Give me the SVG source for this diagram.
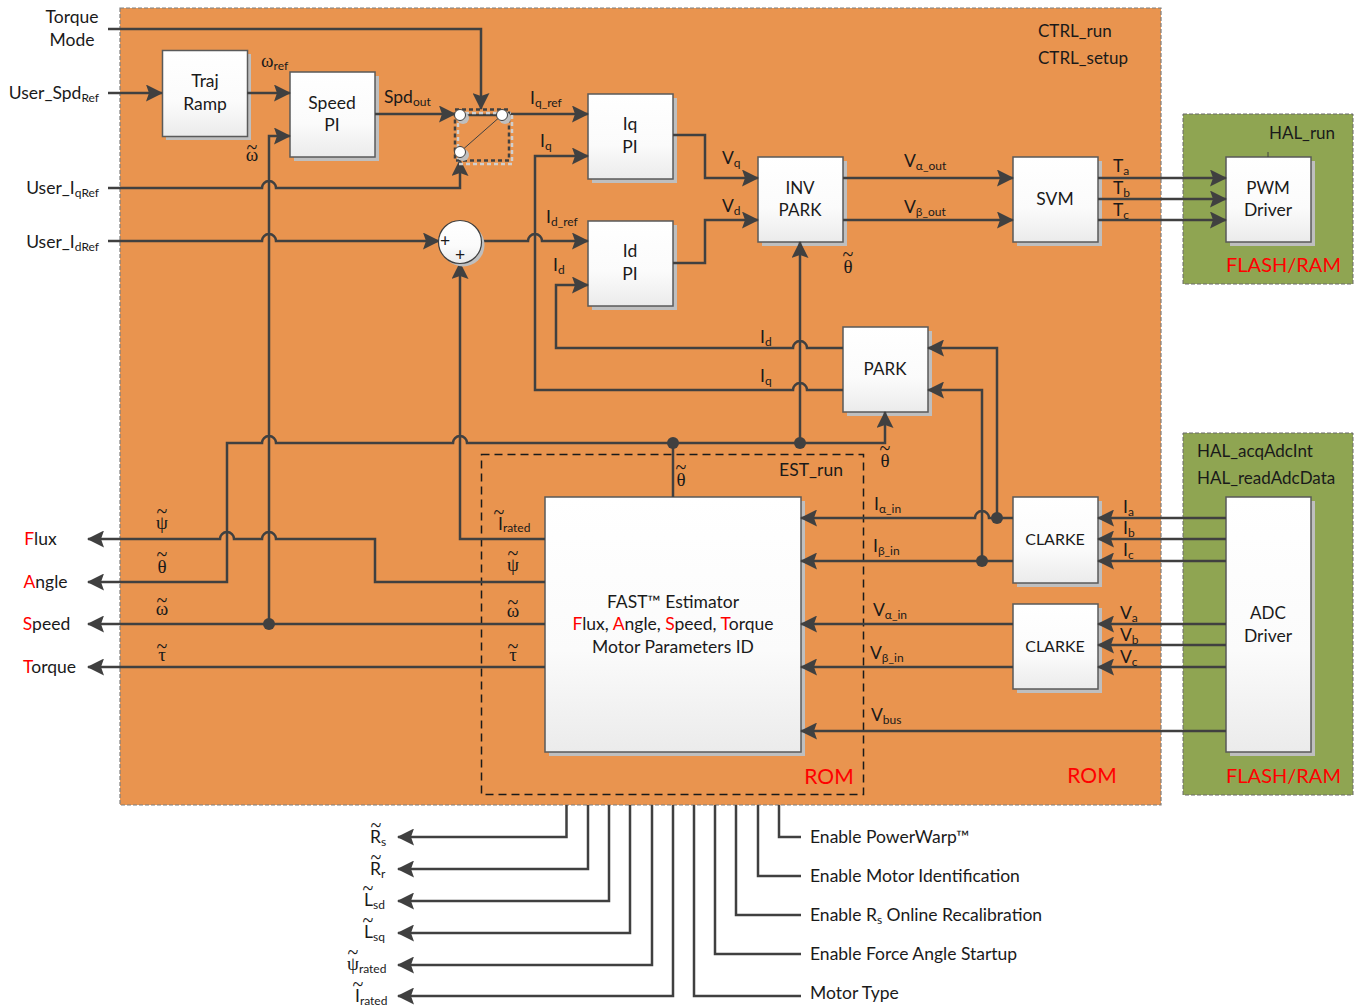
<svg xmlns="http://www.w3.org/2000/svg" width="1355" height="1007" viewBox="0 0 1355 1007">
<style>
text{font-family:Lato,"Liberation Sans",sans-serif;font-size:17.5px;fill:#1a1a1a}
.m{text-anchor:middle}
.e{text-anchor:end}
.s{font-size:12px}
.h{font-size:17px}
.k{font-size:16px}
.g{font-family:"Liberation Serif",serif;font-size:19px}
.t{font-family:"Liberation Serif",serif;font-size:20px;text-anchor:middle}
.r{fill:#f00}
.big{font-size:21px;fill:#f00}
.fl{font-size:20px;fill:#f00}
.c{fill:none;stroke:#404040;stroke-width:2.5}
.a{marker-end:url(#arr)}
.n{fill:url(#grad);stroke:#5a5a5a;stroke-width:1.5}
.sh{fill:#bfbfbf}
.d{fill:#404040}
</style>
<defs>
<linearGradient id="grad" x1="0" y1="0" x2="0" y2="1"><stop offset="0" stop-color="#fff"/><stop offset="0.6" stop-color="#fbfbfb"/><stop offset="1" stop-color="#ebebeb"/></linearGradient>
<marker id="arr" markerUnits="userSpaceOnUse" viewBox="0 0 17 17" refX="16" refY="8.5" markerWidth="17" markerHeight="17" orient="auto"><path d="M0,0L17,8.5L0,17L3,8.5Z" fill="#404040"/></marker>
</defs>
<rect width="1355" height="1007" fill="#fff"/>
<g id="region-ctrl">
<rect x="120" y="8" width="1041" height="797" fill="#e9944f" stroke="#7f7f7f" stroke-width="1.2" stroke-dasharray="4 2"/>
<text x="1038" y="37" class="h">CTRL_run</text>
<text x="1038" y="64" class="h">CTRL_setup</text>
<text x="1092" y="783" class="m big">ROM</text>
</g>
<g id="region-hal-pwm">
<rect x="1183" y="114" width="170" height="170" fill="#8fa552" stroke="#6b6b6b" stroke-width="1" stroke-dasharray="4 2"/>
<text x="1302" y="139" class="m h">HAL_run</text>
<text x="1283.500" y="272" class="m fl">FLASH/RAM</text>
</g>
<g id="region-hal-adc">
<rect x="1183" y="433" width="170" height="362" fill="#8fa552" stroke="#6b6b6b" stroke-width="1" stroke-dasharray="4 2"/>
<text x="1197" y="457" class="h">HAL_acqAdcInt</text>
<text x="1197" y="484" class="h">HAL_readAdcData</text>
<text x="1283.500" y="783" class="m fl">FLASH/RAM</text>
</g>
<g id="region-est">
<rect x="481.500" y="454.500" width="382" height="340" fill="none" stroke="#1a1a1a" stroke-width="1.5" stroke-dasharray="8 5"/>
<text x="811" y="476" class="m">EST_run</text>
<text x="829" y="784" class="m big">ROM</text>
</g>
<g id="traj-ramp"><rect class="sh" x="166" y="54" width="85" height="86"/><rect class="n" x="162.500" y="50.500" width="85" height="86"/><text x="205" y="87" class="m">Traj</text><text x="205" y="110" class="m">Ramp</text></g>
<g id="speed-pi"><rect class="sh" x="294" y="76" width="85" height="85"/><rect class="n" x="290" y="72" width="85" height="85"/><text x="332" y="109" class="m">Speed</text><text x="332" y="131" class="m">PI</text></g>
<g id="iq-pi"><rect class="sh" x="592" y="98" width="85" height="85"/><rect class="n" x="588" y="94" width="85" height="85"/><text x="630" y="130" class="m">Iq</text><text x="630" y="153" class="m">PI</text></g>
<g id="id-pi"><rect class="sh" x="592" y="225" width="85" height="85"/><rect class="n" x="588" y="221" width="85" height="85"/><text x="630" y="257" class="m">Id</text><text x="630" y="280" class="m">PI</text></g>
<g id="inv-park"><rect class="sh" x="762" y="161" width="85" height="85"/><rect class="n" x="758" y="157" width="85" height="85"/><text x="800" y="194" class="m h">INV</text><text x="800" y="216" class="m h">PARK</text></g>
<g id="svm"><rect class="sh" x="1017" y="161" width="85" height="85"/><rect class="n" x="1013" y="157" width="85" height="85"/><text x="1055" y="205" class="m">SVM</text></g>
<g id="pwm-driver"><rect class="sh" x="1230" y="161" width="85" height="85"/><rect class="n" x="1226" y="157" width="85" height="85"/><text x="1268" y="194" class="m h">PWM</text><text x="1268" y="216" class="m">Driver</text></g>
<g id="park"><rect class="sh" x="847" y="331" width="85" height="85"/><rect class="n" x="843" y="327" width="85" height="85"/><text x="885" y="375" class="m h">PARK</text></g>
<g id="clarke-i"><rect class="sh" x="1017" y="501" width="85" height="86"/><rect class="n" x="1013" y="497" width="85" height="86"/><text x="1055" y="545" class="m k">CLARKE</text></g>
<g id="clarke-v"><rect class="sh" x="1017" y="608" width="85" height="85"/><rect class="n" x="1013" y="604" width="85" height="85"/><text x="1055" y="652" class="m k">CLARKE</text></g>
<g id="adc-driver"><rect class="sh" x="1230" y="501" width="85" height="255"/><rect class="n" x="1226" y="497" width="85" height="255"/><text x="1268" y="619" class="m h">ADC</text><text x="1268" y="642" class="m">Driver</text></g>
<g id="fast-estimator"><rect class="sh" x="549" y="501" width="256" height="255"/><rect class="n" x="545" y="497" width="256" height="255"/>
<text x="673" y="608" class="m">FAST™ Estimator</text>
<text x="673" y="630" class="m"><tspan class="r">F</tspan>lux, <tspan class="r">A</tspan>ngle, <tspan class="r">S</tspan>peed, <tspan class="r">T</tspan>orque</text>
<text x="673" y="653" class="m">Motor Parameters ID</text></g>
<g id="connectors">
<path class="c a" d="M108,29H481V109"/>
<path class="c a" d="M108,93H162"/>
<path class="c a" d="M247,93H290"/>
<path class="c a" d="M269,624V136H290"/>
<path class="c a" d="M375,114H455"/>
<path class="c" d="M460,115H502"/>
<path class="c a" d="M509,114H588"/>
<path class="c a" d="M108,188H262a7,7 0 0 1 14,0H460V160"/>
<path class="c a" d="M108,241H262a7,7 0 0 1 14,0H439"/>
<path class="c a" d="M481,241H528a7,7 0 0 1 14,0H588"/>
<path class="c a" d="M843,390H807a7,7 0 0 0 -14,0H535V156H588"/>
<path class="c a" d="M843,348H807a7,7 0 0 0 -14,0H556V285H588"/>
<path class="c a" d="M673,135H705V178H758"/>
<path class="c a" d="M673,263H705V220H758"/>
<path class="c a" d="M843,178H1013"/>
<path class="c a" d="M843,220H1013"/>
<path class="c a" d="M1098,178H1226"/>
<path class="c a" d="M1098,199H1226"/>
<path class="c a" d="M1098,220H1226"/>
<path class="c" d="M1268,152V157" style="stroke-width:1"/>
<path class="c" d="M673,497V443"/>
<path class="c a" d="M800,443V242"/>
<path class="c a" d="M673,443H885V412"/>
<path class="c a" d="M673,443H467a7,7 0 0 0 -14,0H276a7,7 0 0 0 -14,0H227V582H88"/>
<path class="c a" d="M545,582H375V539H276a7,7 0 0 0 -14,0H234a7,7 0 0 0 -14,0H88"/>
<path class="c a" d="M545,624H88"/>
<path class="c a" d="M545,667H88"/>
<path class="c a" d="M545,539H460V263"/>
<path class="c a" d="M1013,518H989a7,7 0 0 0 -14,0H801"/>
<path class="c a" d="M1013,561H801"/>
<path class="c a" d="M997,518V348H928"/>
<path class="c a" d="M982,561V390H928"/>
<path class="c a" d="M1013,624H801"/>
<path class="c a" d="M1013,667H801"/>
<path class="c a" d="M1226,731H801"/>
<path class="c a" d="M1226,518H1098"/>
<path class="c a" d="M1226,539H1098"/>
<path class="c a" d="M1226,561H1098"/>
<path class="c a" d="M1226,624H1098"/>
<path class="c a" d="M1226,645H1098"/>
<path class="c a" d="M1226,667H1098"/>
<path class="c a" d="M566.500,805V837H398"/>
<path class="c a" d="M588,805V869H398"/>
<path class="c a" d="M609,805V901H398"/>
<path class="c a" d="M630,805V933H398"/>
<path class="c a" d="M652,805V965H398"/>
<path class="c a" d="M673,805V996H398"/>
<path class="c" d="M694,805V996H801"/>
<path class="c" d="M715,805V954H801"/>
<path class="c" d="M736,805V915H801"/>
<path class="c" d="M758,805V876H801"/>
<path class="c" d="M779,805V837H801"/>
<circle class="d" cx="673" cy="443" r="6"/>
<circle class="d" cx="800" cy="443" r="6"/>
<circle class="d" cx="269" cy="624" r="6"/>
<circle class="d" cx="997" cy="518" r="6"/>
<circle class="d" cx="982" cy="561" r="6"/>
</g>
<g id="switch">
<rect x="458" y="113" width="54" height="51" fill="none" stroke="#d0d0d0" stroke-width="2.5" stroke-dasharray="4 3"/>
<rect x="455" y="109.500" width="54" height="51" fill="none" stroke="#404040" stroke-width="2.5" stroke-dasharray="4 3"/>
<path d="M460,152L502,115" stroke="#404040" stroke-width="1"/>
<circle class="sh" cx="463" cy="118" r="6"/>
<circle class="sh" cx="505" cy="118" r="6"/>
<circle class="sh" cx="463" cy="155" r="6"/>
<circle cx="460" cy="115" r="5.500" fill="#fff" stroke="#404040"/>
<circle cx="502" cy="115" r="5.500" fill="#fff" stroke="#404040"/>
<circle cx="460" cy="152" r="5.500" fill="#fff" stroke="#404040"/>
</g>
<g id="sum">
<circle class="sh" cx="463" cy="245" r="21.500"/>
<circle cx="460" cy="242" r="21.500" fill="url(#grad)" stroke="#404040" stroke-width="1.2"/>
<text x="445" y="247" class="m">+</text>
<text x="460" y="261" class="m">+</text>
</g>
<g id="labels">
<text x="72" y="23" class="m">Torque</text>
<text x="72" y="46" class="m">Mode</text>
<text x="99" y="99" class="e">User_Spd<tspan class="s" dy="3">Ref</tspan></text>
<text x="99" y="194" class="e">User_I<tspan class="s" dy="3">qRef</tspan></text>
<text x="99" y="248" class="e">User_I<tspan class="s" dy="3">dRef</tspan></text>
<text x="261" y="67" class="g">ω<tspan class="s" dy="3" style="font-family:Lato">ref</tspan></text>
<text class="m"><tspan class="g" x="252" y="161">ω</tspan><tspan class="t" x="252" y="153.500">~</tspan></text>
<text x="384" y="103">Spd<tspan class="s" dy="3">out</tspan></text>
<text x="530" y="104">I<tspan class="s" dy="3">q_ref</tspan></text>
<text x="540" y="147">I<tspan class="s" dy="3">q</tspan></text>
<text x="546" y="223">I<tspan class="s" dy="3">d_ref</tspan></text>
<text x="553" y="271">I<tspan class="s" dy="3">d</tspan></text>
<text x="722" y="164">V<tspan class="s" dy="3">q</tspan></text>
<text x="722" y="212">V<tspan class="s" dy="3">d</tspan></text>
<text x="904" y="167">V<tspan class="s" dy="3">α_out</tspan></text>
<text x="904" y="213">V<tspan class="s" dy="3">β_out</tspan></text>
<text class="m"><tspan class="g" x="848" y="273">θ</tspan><tspan class="t" x="848" y="260.500">~</tspan></text>
<text x="1113" y="172">T<tspan class="s" dy="3">a</tspan></text>
<text x="1113" y="194">T<tspan class="s" dy="3">b</tspan></text>
<text x="1113" y="216">T<tspan class="s" dy="3">c</tspan></text>
<text x="760" y="343">I<tspan class="s" dy="3">d</tspan></text>
<text x="760" y="382">I<tspan class="s" dy="3">q</tspan></text>
<text class="m"><tspan class="g" x="885" y="467">θ</tspan><tspan class="t" x="885" y="454.500">~</tspan></text>
<text class="m"><tspan class="g" x="681" y="486">θ</tspan><tspan class="t" x="681" y="473.500">~</tspan></text>
<text x="874" y="510">I<tspan class="s" dy="3">α_in</tspan></text>
<text x="873" y="552">I<tspan class="s" dy="3">β_in</tspan></text>
<text x="873" y="616">V<tspan class="s" dy="3">α_in</tspan></text>
<text x="870" y="659">V<tspan class="s" dy="3">β_in</tspan></text>
<text x="871" y="721">V<tspan class="s" dy="3">bus</tspan></text>
<text x="1123" y="513">I<tspan class="s" dy="3">a</tspan></text>
<text x="1123" y="534">I<tspan class="s" dy="3">b</tspan></text>
<text x="1123" y="556">I<tspan class="s" dy="3">c</tspan></text>
<text x="1120" y="619">V<tspan class="s" dy="3">a</tspan></text>
<text x="1120" y="641">V<tspan class="s" dy="3">b</tspan></text>
<text x="1120" y="663">V<tspan class="s" dy="3">c</tspan></text>
<text><tspan x="498" y="530">I</tspan><tspan class="s" dy="2">rated</tspan><tspan class="t" x="499" y="518.500">~</tspan></text>
<text class="m"><tspan class="g" x="513" y="571">ψ</tspan><tspan class="t" x="513" y="559.500">~</tspan></text>
<text class="m"><tspan class="g" x="513" y="617">ω</tspan><tspan class="t" x="513" y="608.500">~</tspan></text>
<text class="m"><tspan class="g" x="513" y="661">τ</tspan><tspan class="t" x="513" y="652.500">~</tspan></text>
<text class="m"><tspan class="g" x="162" y="529">ψ</tspan><tspan class="t" x="162" y="517.500">~</tspan></text>
<text class="m"><tspan class="g" x="162" y="573">θ</tspan><tspan class="t" x="162" y="560.500">~</tspan></text>
<text class="m"><tspan class="g" x="162" y="615">ω</tspan><tspan class="t" x="162" y="606.500">~</tspan></text>
<text class="m"><tspan class="g" x="162" y="661">τ</tspan><tspan class="t" x="162" y="652.500">~</tspan></text>
<text x="40.500" y="545" class="m"><tspan class="r">F</tspan>lux</text>
<text x="45.500" y="588" class="m"><tspan class="r">A</tspan>ngle</text>
<text x="46.500" y="630" class="m"><tspan class="r">S</tspan>peed</text>
<text x="49.500" y="673" class="m"><tspan class="r">T</tspan>orque</text>
<text><tspan x="370" y="843">R</tspan><tspan class="s" dy="3">s</tspan><tspan class="t" x="376" y="831.500">~</tspan></text>
<text><tspan x="370" y="875">R</tspan><tspan class="s" dy="3">r</tspan><tspan class="t" x="376" y="863.500">~</tspan></text>
<text><tspan x="364" y="906">L</tspan><tspan class="s" dy="3">sd</tspan><tspan class="t" x="368" y="894.500">~</tspan></text>
<text><tspan x="364" y="938">L</tspan><tspan class="s" dy="3">sq</tspan><tspan class="t" x="368" y="926.500">~</tspan></text>
<text><tspan class="g" x="347" y="970">ψ</tspan><tspan class="s" dy="3">rated</tspan><tspan class="t" x="353" y="958.500">~</tspan></text>
<text><tspan x="355" y="1002">I</tspan><tspan class="s" dy="3">rated</tspan><tspan class="t" x="358" y="990.500">~</tspan></text>
<text x="810" y="843">Enable PowerWarp™</text>
<text x="810" y="882">Enable Motor Identification</text>
<text x="810" y="921">Enable R<tspan class="s" dy="3">s</tspan><tspan dy="-3"> Online Recalibration</tspan></text>
<text x="810" y="960">Enable Force Angle Startup</text>
<text x="810" y="999">Motor Type</text>
</g>
</svg>
